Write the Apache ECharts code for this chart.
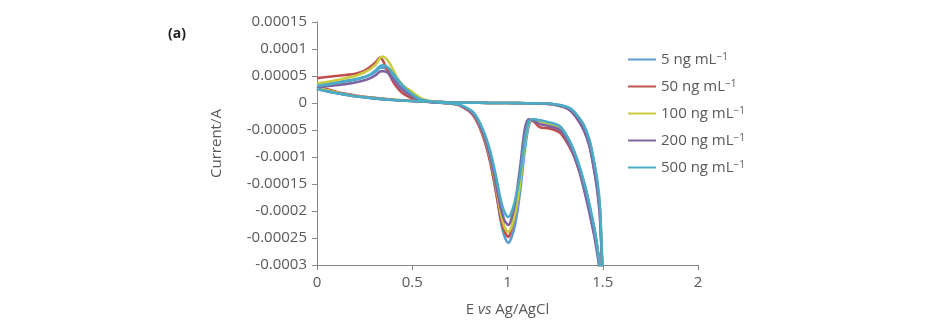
<!DOCTYPE html>
<html>
<head>
<meta charset="utf-8">
<script src="https://cdn.jsdelivr.net/npm/echarts@6/dist/echarts.min.js"></script>
<style>
  html, body { margin: 0; padding: 0; background: #fff; }
  #chart { width: 952px; height: 330px; }
</style>
</head>
<body>
<div id="chart"></div>
<script>
// potential (V vs Ag/AgCl) along one cycle: forward sweep to 1.5 V, then back to 0
const potential = [
  0, 0.05, 0.1, 0.15, 0.2, 0.3, 0.4, 0.5, 0.6, 0.7, 0.8, 0.9, 1.0, 1.1, 1.2, 1.25,
  1.3, 1.33, 1.36, 1.4, 1.43, 1.45, 1.47, 1.485, 1.505,
  1.48, 1.46, 1.44, 1.415, 1.38, 1.345, 1.31, 1.275, 1.22, 1.17, 1.13, 1.11, 1.09,
  1.066, 1.04, 1.02, 1.005, 0.985, 0.965, 0.945, 0.91, 0.87, 0.82, 0.75, 0.7, 0.65,
  0.6, 0.55, 0.52, 0.49, 0.45, 0.42, 0.4, 0.38, 0.36, 0.345, 0.33, 0.31, 0.28, 0.25,
  0.2, 0.15, 0.1, 0.05, 0
];

// currents in units of 1e-5 A, same order as potential
const i5 = [
  2.7, 2.3, 1.9, 1.6, 1.3, 0.9, 0.6, 0.4, 0.25, 0.1, 0.05, 0.02, 0, -0.05, -0.1, -0.25,
  -0.6, -1.1, -2.1, -4.2, -7, -10.3, -14.5, -19.5, -38,
  -29, -24, -20.5, -16.5, -12, -8.5, -6, -4.4, -3.7, -3.2, -3.1, -4.5, -9,
  -16.5, -22.5, -25, -25.9, -24.8, -22, -17.5, -11, -5.8, -2.1, -0.4, -0.1, 0.05,
  0.2, 0.5, 0.9, 1.6, 2.8, 4.0, 5.0, 5.9, 6.4, 6.6, 6.5, 5.9, 5.2, 4.8,
  4.4, 4.1, 3.8, 3.6, 3.4
];
const i50 = [
  3.0, 2.6, 2.1, 1.7, 1.4, 0.95, 0.6, 0.4, 0.25, 0.1, 0.05, 0.02, 0, -0.05, -0.15, -0.35,
  -0.8, -1.4, -2.6, -4.9, -7.8, -11.3, -15.5, -20.5, -38,
  -29, -24.5, -21, -17.5, -13, -9.5, -7.2, -5.5, -4.7, -4.5, -3.3, -3.5, -6.5,
  -14.5, -20.5, -23.5, -24.8, -23.8, -21.5, -17.5, -11, -6, -2.3, -0.5, -0.1, 0.05,
  0.15, 0.3, 0.6, 1.0, 1.8, 2.9, 3.9, 5.3, 6.8, 7.9, 8.4, 7.6, 6.7, 6.0,
  5.4, 5.2, 5.0, 4.8, 4.6
];
const i100 = [
  2.8, 2.4, 2.0, 1.6, 1.3, 0.9, 0.6, 0.4, 0.25, 0.1, 0.05, 0.02, 0, -0.05, -0.12, -0.3,
  -0.75, -1.3, -2.5, -4.7, -7.6, -11, -15, -20, -38,
  -29.5, -25, -21.5, -17.5, -12.5, -8.8, -6.2, -4.6, -3.9, -3.4, -3.0, -3.8, -7.5,
  -15, -20.5, -23, -23.9, -23, -20.5, -16.5, -10.2, -5.5, -2.0, -0.4, -0.1, 0.05,
  0.3, 0.8, 1.5, 2.3, 3.3, 4.7, 6.1, 7.4, 8.3, 8.6, 8.3, 7.2, 6.3, 5.7,
  5.0, 4.6, 4.2, 3.9, 3.6
];
const i200 = [
  2.6, 2.2, 1.85, 1.55, 1.25, 0.85, 0.55, 0.38, 0.22, 0.1, 0.05, 0.02, 0, -0.05, -0.12, -0.32,
  -0.8, -1.4, -2.6, -5, -8, -11.5, -16, -21, -38,
  -30, -25.5, -22, -18, -13, -9.3, -6.8, -5.0, -4.3, -3.9, -3.1, -3.0, -5.0,
  -12, -18.5, -21.5, -22.6, -21.8, -19.5, -16, -10, -5.4, -2.0, -0.4, -0.1, 0.05,
  0.15, 0.4, 0.8, 1.4, 2.4, 3.5, 4.4, 5.3, 5.8, 5.9, 5.8, 5.2, 4.6, 4.2,
  3.8, 3.5, 3.3, 3.1, 2.9
];
const i500 = [
  2.6, 2.2, 1.85, 1.55, 1.25, 0.85, 0.55, 0.38, 0.22, 0.1, 0.05, 0.02, 0, -0.05, -0.1, -0.25,
  -0.6, -1.0, -2.0, -4.0, -6.8, -10, -14, -19, -38,
  -29, -24, -20.5, -16.5, -12, -8.5, -6, -4.3, -3.6, -3.2, -3.0, -3.6, -7,
  -13.5, -18, -20.3, -21.1, -20.3, -18, -14.5, -9, -4.8, -1.7, -0.3, -0.05, 0.05,
  0.25, 0.6, 1.1, 1.9, 3.2, 4.5, 5.4, 6.3, 6.9, 7.0, 6.8, 6.1, 5.3, 4.8,
  4.3, 4.0, 3.7, 3.4, 3.2
];

const names = ['5 ng mL−1', '50 ng mL−1', '100 ng mL−1', '200 ng mL−1', '500 ng mL−1'];
const currents = [i5, i50, i100, i200, i500];
const colors = ['#5b9bd5', '#c0504d', '#c9cc3f', '#8064a2', '#4bacc6'];

const xTicks = [0, 0.5, 1, 1.5, 2];
const yMin = -0.0003, yMax = 0.00015, yStep = 0.00005;

const gray = '#595959';
const axisGray = '#868686';
const font = '"Open Sans", sans-serif';

const chart = echarts.init(document.getElementById('chart'));

chart.setOption({
  animation: false,
  title: {
    text: '(a)',
    left: 163, top: 22,
    textStyle: { fontSize: 14, fontWeight: 'bold', color: '#222', fontFamily: font },
  },
  grid: { left: 317, right: 254, top: 22, bottom: 65 },
  legend: {
    orient: 'vertical',
    left: 622, top: 47,
    itemWidth: 28, itemHeight: 14, itemGap: 12,
    data: names,
    itemStyle: { opacity: 0 },
    formatter: (n) => n.replace('−1', '{sup|−1}'),
    textStyle: {
      fontSize: 15, color: gray, fontFamily: font,
      rich: { sup: { fontSize: 10, color: gray, fontFamily: font, verticalAlign: 'top' } },
    },
  },
  xAxis: {
    type: 'value',
    min: xTicks[0], max: xTicks[xTicks.length - 1], interval: 0.5,
    name: 'E {i|vs} Ag/AgCl',
    nameLocation: 'middle', nameGap: 37,
    nameTextStyle: {
      fontSize: 15, color: gray, fontFamily: font,
      rich: { i: { fontStyle: 'italic', fontSize: 15, color: gray, fontFamily: font } },
    },
    axisLine: { onZero: false, lineStyle: { color: axisGray, width: 1 } },
    axisTick: { inside: false, length: 5, lineStyle: { color: axisGray } },
    axisLabel: { fontSize: 15, color: gray, fontFamily: font, margin: 10 },
    splitLine: { show: false },
  },
  yAxis: {
    type: 'value',
    min: yMin, max: yMax, interval: yStep,
    name: 'Current/A',
    nameLocation: 'middle', nameRotate: 90, nameGap: 93,
    nameTextStyle: { fontSize: 15, color: gray, fontFamily: font },
    axisLine: { show: true, onZero: false, lineStyle: { color: axisGray, width: 1 } },
    axisTick: { show: true, inside: false, length: 5, lineStyle: { color: axisGray } },
    axisLabel: {
      fontSize: 15, color: gray, fontFamily: font, margin: 10,
      formatter: (v) => String(+v.toFixed(5)),
    },
    splitLine: { show: false },
  },
  series: names.map((name, k) => ({
    name,
    type: 'line',
    symbol: 'none',
    smooth: 0.3,
    clip: true,
    color: colors[k],
    lineStyle: { width: 2.6, color: colors[k] },
    data: potential.map((e, j) => [e, currents[k][j] * 1e-5]),
  })),
});
</script>
</body>
</html>
